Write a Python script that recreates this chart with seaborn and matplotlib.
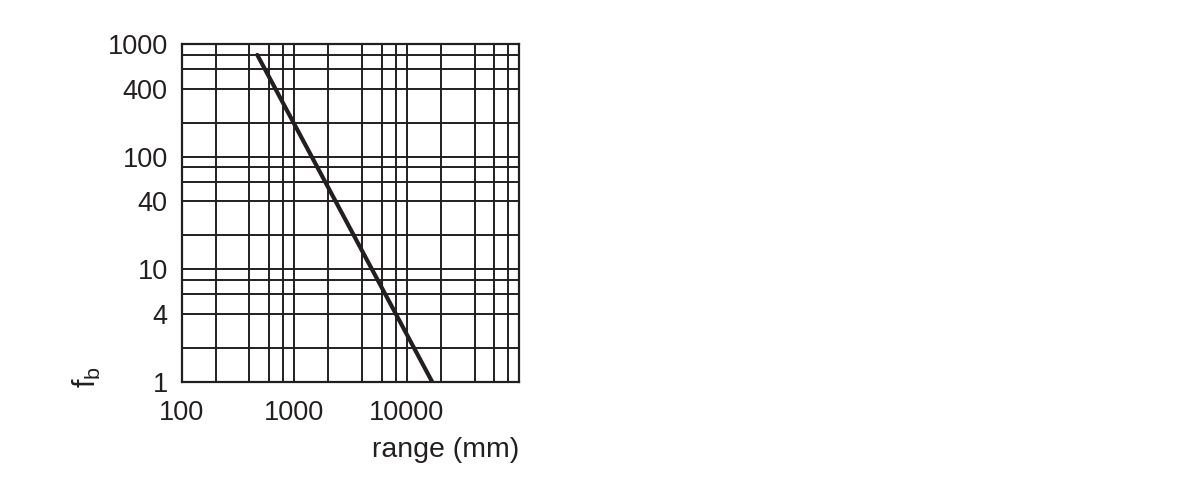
import matplotlib
matplotlib.use("Agg")
import matplotlib.pyplot as plt
import seaborn as sns
import pandas as pd

# line (endpoints, log-log straight line)
range_mm = [470, 16800]
fb = [800, 1]

xticks = [100, 1000, 10000, 100000]
xticklabels = ["100", "1000", "10000", ""]
xgrid_minor = [200, 400, 600, 800, 2000, 4000, 6000, 8000,
               20000, 40000, 60000, 80000]
yticks = [1, 4, 10, 40, 100, 400, 1000]
yticklabels = ["1", "4", "10", "40", "100", "400", "1000"]
ygrid_minor = [2, 6, 8, 20, 60, 80, 200, 600, 800]

ink = "#231f20"

sns.set_style("white")
plt.rcParams["font.family"] = ["Liberation Sans", "DejaVu Sans"]
plt.rcParams["mathtext.fontset"] = "custom"
plt.rcParams["mathtext.rm"] = "Liberation Sans"

df = pd.DataFrame({"range": range_mm, "fb": fb})

fig = plt.figure(figsize=(11.99, 4.96), dpi=100)
ax = fig.add_axes([0.1515, 0.2304, 0.2816, 0.6809])

sns.lineplot(data=df, x="range", y="fb", ax=ax, color=ink, linewidth=3.0)

ax.set_xscale("log")
ax.set_yscale("log")
ax.set_xlim(100, 100000)
ax.set_ylim(1, 1000)

ax.set_xticks(xticks)
ax.set_xticklabels(xticklabels)
ax.set_xticks(xgrid_minor, minor=True)
ax.set_yticks(yticks)
ax.set_yticklabels(yticklabels)
ax.set_yticks(ygrid_minor, minor=True)
ax.tick_params(axis="x", which="minor", labelbottom=False, length=0)
ax.tick_params(axis="y", which="minor", labelleft=False, length=0)
ax.tick_params(which="major", length=7, width=1.4, color=ink,
               labelsize=19.5, labelcolor=ink)
ax.tick_params(axis="x", which="major", pad=6)
ax.tick_params(axis="y", which="major", pad=3)
for t in ax.xaxis.get_major_ticks():
    if t.get_loc() in (100, 100000):
        t.tick1line.set_visible(False)

ax.grid(True, which="both", color=ink, linewidth=1.4)
for s in ax.spines.values():
    s.set_color(ink)
    s.set_linewidth(1.6)

ax.set_xlabel("range (mm)", fontsize=20.5, color=ink, loc="right", labelpad=8)
ax.set_ylabel(r"f$_\mathregular{b}$", fontsize=22, color=ink)
ax.yaxis.set_label_coords(-0.232, 0.015)

fig.savefig("out.png", dpi=100)
